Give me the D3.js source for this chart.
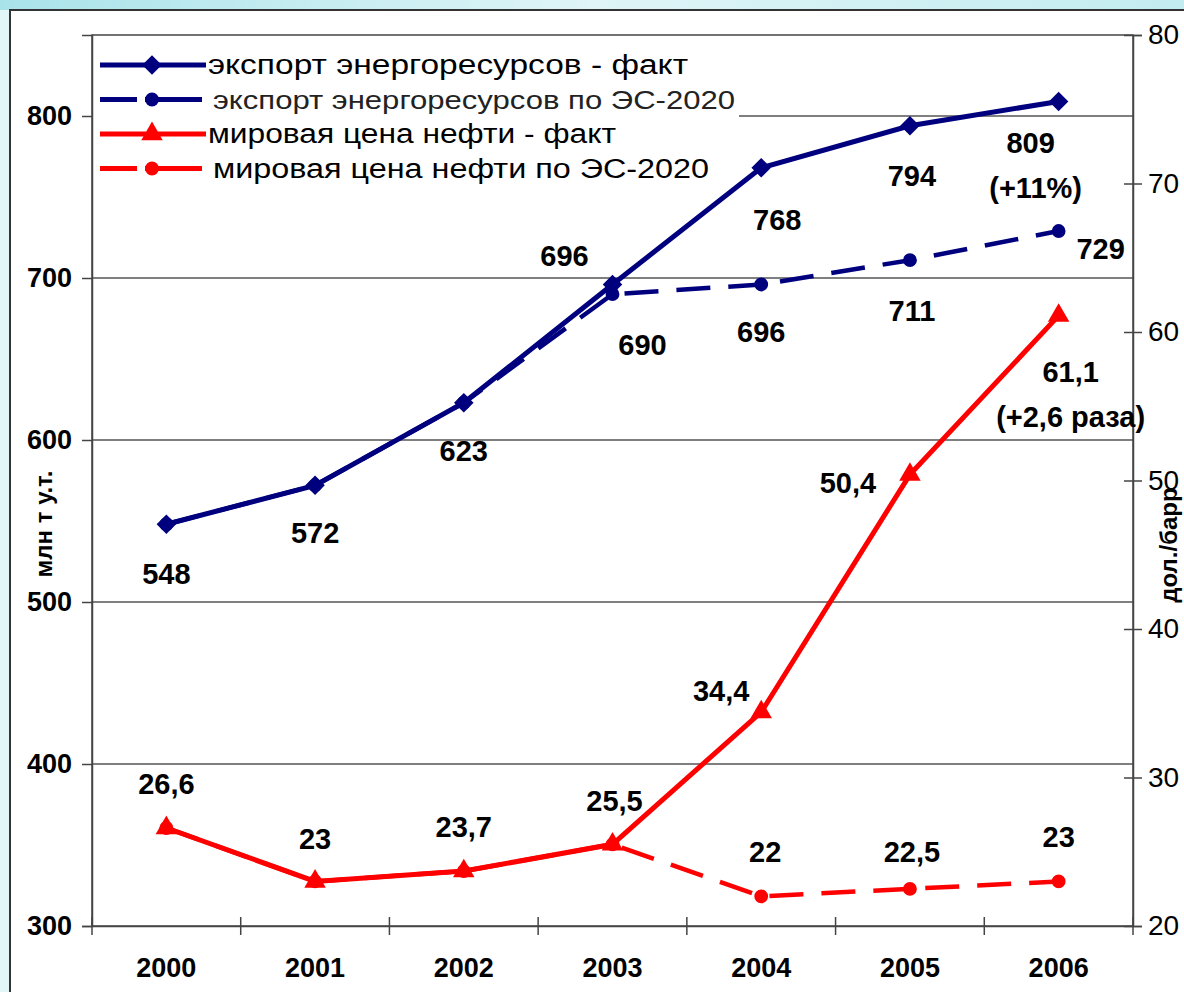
<!DOCTYPE html>
<html>
<head>
<meta charset="utf-8">
<script src="https://cdn.jsdelivr.net/npm/d3@7"></script>
<style>
  body { margin: 0; background: #d9f3f6; overflow: hidden; }
  text { font-family: "Liberation Sans", Arial, sans-serif; }
</style>
</head>
<body>
<svg class="chart"></svg>
<script>
const width = 1184, height = 992;

const years = ["2000", "2001", "2002", "2003", "2004", "2005", "2006"];
const exportFact = [548, 572, 623, 696, 768, 794, 809];
const exportPlan = [548, 572, 623, 690, 696, 711, 729];
const oilFact = [26.6, 23, 23.7, 25.5, 34.4, 50.4, 61.1];
const oilPlan = [26.6, 23, 23.7, 25.5, 22, 22.5, 23];
const leftTicks = [300, 400, 500, 600, 700, 800];
const rightTicks = [20, 30, 40, 50, 60, 70, 80];
const legendNames = [
  "экспорт энергоресурсов  - факт",
  "экспорт энергоресурсов по ЭС-2020",
  "мировая цена  нефти - факт",
  "мировая цена  нефти по ЭС-2020"
];

const navy = "#00007f", red = "#ff0000";
const plot = { left: 92, right: 1133, top: 35, bottom: 926 };

let chart = d3.select(".chart")
  .attr("width", width)
  .attr("height", height);

// background
let defs = chart.append("defs");
let grad = defs.append("linearGradient").attr("id", "bg")
  .attr("x1", 0).attr("y1", 0).attr("x2", 1).attr("y2", 0);
grad.append("stop").attr("offset", 0).attr("stop-color", "#a9e3ea");
grad.append("stop").attr("offset", 0.5).attr("stop-color", "#dff5f7");
grad.append("stop").attr("offset", 1).attr("stop-color", "#c3ecf0");
chart.append("rect").attr("width", width).attr("height", height).attr("fill", "#e2f6f8");
chart.append("rect").attr("width", width).attr("height", 10).attr("fill", "url(#bg)");
chart.append("rect").attr("x", 10).attr("y", 10).attr("width", width).attr("height", height)
  .attr("fill", "#fff").attr("stroke", "#333").attr("stroke-width", 2);

let x = d3.scaleBand().domain(years).range([plot.left, plot.right]);
let xc = d => x(d) + x.bandwidth() / 2;
let yL = d3.scaleLinear().domain([300, 850]).range([plot.bottom, plot.top]);
let yR = d3.scaleLinear().domain([20, 80]).range([plot.bottom, plot.top]);

// gridlines
chart.append("g").selectAll("line")
  .data(leftTicks.slice(1))
  .enter().append("line")
  .attr("x1", plot.left).attr("x2", plot.right)
  .attr("y1", d => yL(d)).attr("y2", d => yL(d))
  .attr("stroke", "#555").attr("stroke-width", 1.5);

// plot frame
chart.append("rect")
  .attr("x", plot.left).attr("y", plot.top)
  .attr("width", plot.right - plot.left).attr("height", plot.bottom - plot.top)
  .attr("fill", "none").attr("stroke", "#444").attr("stroke-width", 1.5);

// legend box covers grid
chart.append("rect")
  .attr("x", plot.left + 1).attr("y", plot.top + 1)
  .attr("width", 646).attr("height", 150)
  .attr("fill", "#fff");

// axes
let axisL = chart.append("g").attr("transform", `translate(${plot.left},0)`)
  .call(d3.axisLeft(yL).tickValues(leftTicks).tickSize(10).tickPadding(10));
let axisR = chart.append("g").attr("transform", `translate(${plot.right},0)`)
  .call(d3.axisRight(yR).tickValues(rightTicks).tickSize(9).tickPadding(6));
axisR.selectAll(".tick line").attr("x1", -9);
let axisB = chart.append("g").attr("transform", `translate(0,${plot.bottom})`)
  .call(d3.axisBottom(x).tickSize(0).tickPadding(32));
chart.append("g").selectAll("line")
  .data(d3.range(years.length + 1))
  .enter().append("line")
  .attr("x1", i => plot.left + i * x.step()).attr("x2", i => plot.left + i * x.step())
  .attr("y1", plot.bottom - 9).attr("y2", plot.bottom + 9)
  .attr("stroke", "#444").attr("stroke-width", 1.5);
[axisL, axisR, axisB].forEach(a => {
  a.select(".domain").attr("stroke", "#444").attr("stroke-width", 1.5);
  a.selectAll(".tick line").attr("stroke", "#444").attr("stroke-width", 1.5);
  a.selectAll(".tick text").attr("fill", "#000")
    .style("font-size", "27px").style("font-weight", "bold")
    .style("font-family", "'Liberation Sans', Arial, sans-serif");
});
axisR.selectAll(".tick text").style("font-weight", "normal").style("font-size", "28px");

// axis titles
chart.append("text")
  .attr("transform", "translate(52,524) rotate(-90)")
  .attr("text-anchor", "middle")
  .style("font-size", "24px").style("font-weight", "bold")
  .text("млн т у.т.");
chart.append("text")
  .attr("transform", "translate(1177,545) rotate(-90)")
  .attr("text-anchor", "middle")
  .style("font-size", "24px").style("font-weight", "bold")
  .text("дол./барр");

// markers
let diamond = {
  draw(ctx, size) {
    let r = Math.sqrt(size) / 1.45;
    ctx.moveTo(0, -r); ctx.lineTo(r, 0); ctx.lineTo(0, r); ctx.lineTo(-r, 0); ctx.closePath();
  }
};
const markSize = m => m === d3.symbolCircle ? 150 : 200;

// lines
function drawSeries(values, scale, color, dashed, marker) {
  let line = d3.line().x((d, i) => xc(years[i])).y(d => scale(d));
  let g = chart.append("g");
  g.append("path")
    .datum(values)
    .attr("d", line)
    .attr("fill", "none")
    .attr("stroke", color)
    .attr("stroke-width", dashed ? 4.5 : 5)
    .attr("stroke-dasharray", dashed ? "34,18" : null);
  g.selectAll("path.m")
    .data(values)
    .enter().append("path")
    .attr("class", "m")
    .attr("d", d3.symbol().type(marker).size(markSize(marker)))
    .attr("fill", color)
    .attr("transform", (d, i) => `translate(${xc(years[i])},${scale(d)})`);
}
drawSeries(exportPlan, yL, navy, true, d3.symbolCircle);
drawSeries(oilPlan, yR, red, true, d3.symbolCircle);
drawSeries(exportFact, yL, navy, false, diamond);
drawSeries(oilFact, yR, red, false, d3.symbolTriangle);

// data labels
const fmt = v => String(v).replace(".", ",");
const expFactOff = [[0, 60], [0, 58], [0, 58], [-48, -18], [16, 62], [2, 60], [-28, 52]];
const expPlanOff = [null, null, null, [30, 61], [0, 58], [2, 61], [42, 28]];
const oilFactOff = [[0, -34], [0, -32], [0, -34], [2, -33], [-40, -11], [-62, 18], [12, 66]];
const oilPlanOff = [null, null, null, null, [4, -34], [2, -27], [0, -34]];
function labels(values, scale, offs) {
  chart.append("g").selectAll("text")
    .data(values.map((v, i) => ({ v, i, o: offs[i] })).filter(d => d.o))
    .enter().append("text")
    .attr("x", d => xc(years[d.i]) + d.o[0])
    .attr("y", d => scale(d.v) + d.o[1])
    .attr("text-anchor", "middle")
    .style("font-size", "29px").style("font-weight", "bold")
    .text(d => fmt(d.v));
}
labels(exportFact, yL, expFactOff);
labels(exportPlan, yL, expPlanOff);
labels(oilFact, yR, oilFactOff);
labels(oilPlan, yR, oilPlanOff);
chart.append("text")
  .attr("x", xc("2006") - 23).attr("y", yL(809) + 97)
  .attr("text-anchor", "middle")
  .style("font-size", "29px").style("font-weight", "bold")
  .text("(+11%)");
chart.append("text")
  .attr("x", xc("2006") + 12).attr("y", yR(61.1) + 111)
  .attr("text-anchor", "middle")
  .style("font-size", "29px").style("font-weight", "bold")
  .text("(+2,6 раза)");

// legend
const legendColors = [navy, navy, red, red];
const legendDash = [false, true, false, true];
const legendMarks = [diamond, d3.symbolCircle, d3.symbolTriangle, d3.symbolCircle];
let leg = chart.append("g").selectAll("g")
  .data(legendNames)
  .enter().append("g")
  .attr("transform", (d, i) => `translate(100,${65 + i * 34.5})`);
leg.append("line")
  .attr("x1", 0).attr("x2", (d, i) => legendDash[i] ? 102 : 106)
  .attr("stroke", (d, i) => legendColors[i])
  .attr("stroke-width", 5)
  .attr("stroke-dasharray", (d, i) => legendDash[i] ? "37,8,60" : null);
leg.append("path")
  .attr("d", (d, i) => d3.symbol().type(legendMarks[i]).size(markSize(legendMarks[i]))())
  .attr("fill", (d, i) => legendColors[i])
  .attr("transform", "translate(52,0)");
leg.append("text")
  .attr("x", (d, i) => legendDash[i] ? 113 : 108)
  .attr("y", 9)
  .attr("textLength", (d, i) => [480, 522, 408, 496][i])
  .attr("lengthAdjust", "spacingAndGlyphs")
  .style("font-size", (d, i) => i === 1 ? "25px" : "27px")
  .style("fill", (d, i) => i === 1 ? "#222" : "#000")
  .text(d => d);
</script>
</body>
</html>
